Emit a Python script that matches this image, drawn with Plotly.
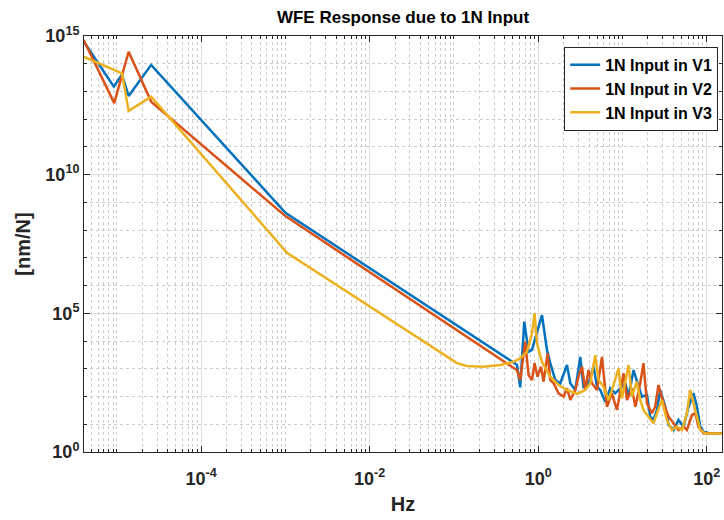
import plotly.graph_objects as go

# ---------------- data ----------------
v1_freq = [4.04e-6, 9.2e-6, 1.15e-5, 1.38e-5, 2.55e-5, 1.0e-3, 0.558, 0.611, 0.682, 0.767,
           0.842, 1.106, 1.268, 1.388, 1.591, 1.824, 2.19, 2.40, 2.75, 3.15,
           3.44, 3.95, 4.53, 4.97, 5.44, 6.24, 7.14, 8.18, 9.40, 10.8,
           11.8, 13.5, 15.5, 17.0, 19.5, 21.3, 23.3, 25.6, 28.0, 32.1,
           35.2, 40.3, 46.1, 53.0, 60.7, 69.5, 76.4, 83.6, 91.4, 110, 161]
v1_mag = [6.3e14, 1.5e13, 4.0e13, 6.9e12, 9.1e13, 4.2e8, 1.4e3, 215, 5.0e4, 4.1e3,
          4.8e3, 8.7e4, 4.8e3, 1.6e3, 394, 300, 1.37e3, 300, 172, 2.7e3,
          226, 300, 1.19e3, 226, 172, 65, 198, 131, 198, 300,
          99, 906, 226, 99, 114, 18.7, 14.3, 32.7, 172, 43,
          9.4, 6.2, 14.3, 8.2, 43, 131, 43, 8.2, 5.4, 4.7, 4.5]

v2_freq = [4.04e-6, 9.3e-6, 1.38e-5, 2.55e-5, 1.0e-3, 0.558, 0.611, 0.701, 0.767, 0.842,
           0.904, 0.981, 1.077, 1.156, 1.29, 1.388, 1.52, 1.74, 2.0, 2.19,
           2.40, 2.75, 3.0, 3.30, 3.61, 3.95, 4.33, 4.97, 5.70, 6.53,
           7.48, 8.58, 10.3, 11.3, 12.9, 14.2, 16.2, 17.7, 19.5, 22.3,
           24.4, 26.7, 30.6, 35.2, 40.3, 46.1, 53.0, 58.1, 66.5, 72.8,
           79.7, 91.4, 161]
v2_mag = [7.2e14, 3.8e12, 2.7e14, 4.3e12, 3.2e8, 900, 394, 9.5e3, 598, 394,
          1.6e3, 520, 1.19e3, 343, 3.6e3, 394, 300, 131, 99, 198,
          75, 172, 520, 1.19e3, 172, 906, 300, 172, 2.7e3, 43,
          131, 33, 689, 75, 198, 43, 300, 1.6e3, 57, 25,
          43, 261, 57, 18.7, 10.8, 6.2, 8.2, 6.2, 21.6, 25,
          8.2, 4.7, 4.5]

v3_freq = [4.04e-6, 1.15e-5, 1.38e-5, 2.55e-5, 1.05e-3, 0.0573, 0.0826, 0.1086, 0.1426, 0.2244,
           0.354, 0.509, 0.611, 0.734, 0.842, 0.904, 0.965, 1.106, 1.388, 1.74,
           2.19, 2.88, 3.61, 4.14, 4.74, 5.19, 5.95, 6.82, 7.82, 8.97,
           9.84, 11.8, 12.9, 14.8, 16.2, 17.7, 20.3, 23.3, 25.6, 29.3,
           33.6, 38.5, 44.2, 50.7, 58.1, 63.5, 72.8, 83.6, 95.7, 161]
v3_mag = [1.8e14, 4.5e13, 2.0e12, 6.5e12, 1.5e7, 5.5e3, 2.7e3, 1.6e3, 1.26e3, 1.19e3,
          1.37e3, 1.8e3, 2.4e3, 4.1e3, 1.9e4, 1.0e5, 8.3e3, 1.76e3, 520, 261,
          172, 124, 172, 300, 3.1e3, 394, 226, 75, 261, 1.04e3,
          86, 1.37e3, 99, 343, 75, 33, 18.7, 10.8, 25, 75,
          14.3, 6.2, 8.2, 6.2, 25, 172, 33, 6.2, 4.7, 4.5]

series_names = ["1N Input in V1", "1N Input in V2", "1N Input in V3"]

x_tick_vals = [1e-4, 1e-2, 1e0, 1e2]
x_tick_text = ["10<sup>-4</sup>", "10<sup>-2</sup>", "10<sup>0</sup>", "10<sup>2</sup>"]
y_tick_vals = [1e0, 1e5, 1e10, 1e15]
y_tick_text = ["10<sup>0</sup>", "10<sup>5</sup>", "10<sup>10</sup>", "10<sup>15</sup>"]

title_text = "WFE Response due to 1N Input"
x_title = "Hz"
y_title = "[nm/N]"

# ---------------- styling ----------------
colors = ["#0072BD", "#D95319", "#EDB120"]
FONT = "Liberation Sans, Arial, Helvetica, sans-serif"
AX = "#262626"

x_minor = [k * 10.0 ** n for n in range(-6, 3) for k in range(1, 10)
           if not (k == 1 and n in (-4, -2, 0, 2))]
y_minor = [10.0 ** n for n in range(1, 15) if n not in (5, 10)]

fig = go.Figure()
for fx, fy, nm, c in zip([v1_freq, v2_freq, v3_freq], [v1_mag, v2_mag, v3_mag],
                         series_names, colors):
    fig.add_trace(go.Scatter(x=fx, y=fy, mode="lines", name=nm,
                             line=dict(color=c, width=2.5)))

axis_common = dict(
    type="log", showline=True, linecolor=AX, linewidth=1, mirror="ticks",
    ticks="inside", ticklen=6, tickcolor=AX, tickwidth=1, automargin=False,
    showgrid=True, gridcolor="#dcdcdc", gridwidth=1, zeroline=False,
    tickfont=dict(family=FONT, size=18, color=AX, weight="bold"),
)

fig.update_layout(
    width=724, height=520,
    margin=dict(l=84, r=2, t=36, b=68),
    paper_bgcolor="white", plot_bgcolor="white",
    title=dict(text=title_text, x=0.5, xanchor="center", xref="paper",
               y=1 - 11 / 520, yanchor="top", yref="container",
               font=dict(family=FONT, size=17, color="black", weight="bold")),
    xaxis=dict(**axis_common, range=[-5.39, 2.18],
               tickmode="array", tickvals=x_tick_vals, ticktext=x_tick_text,
               ticklabelstandoff=10,
               minor=dict(tickmode="array", tickvals=x_minor, ticks="inside", ticklen=3,
                          tickcolor=AX, showgrid=True, gridcolor="#cccccc",
                          griddash="dot", gridwidth=1),
               title=dict(text=x_title, standoff=9,
                          font=dict(family=FONT, size=20, color=AX, weight="bold"))),
    yaxis=dict(**axis_common, range=[0, 15],
               tickmode="array", tickvals=y_tick_vals, ticktext=y_tick_text,
               ticklabelstandoff=0,
               minor=dict(tickmode="array", tickvals=y_minor, ticks="inside", ticklen=3,
                          tickcolor=AX, showgrid=True, gridcolor="#cccccc",
                          griddash="dot", gridwidth=1),
               title=dict(text=y_title, standoff=9,
                          font=dict(family=FONT, size=20, color=AX, weight="bold"))),
    legend=dict(x=0.994, xanchor="right", y=0.974, yanchor="top",
                bgcolor="white", bordercolor=AX, borderwidth=1,
                font=dict(family=FONT, size=16, color="black", weight="bold"),
                itemwidth=30, tracegroupgap=0),
    showlegend=True,
)

fig.write_html("out.html", config={"displayModeBar": False},
               post_script="document.body.style.margin='0';")
